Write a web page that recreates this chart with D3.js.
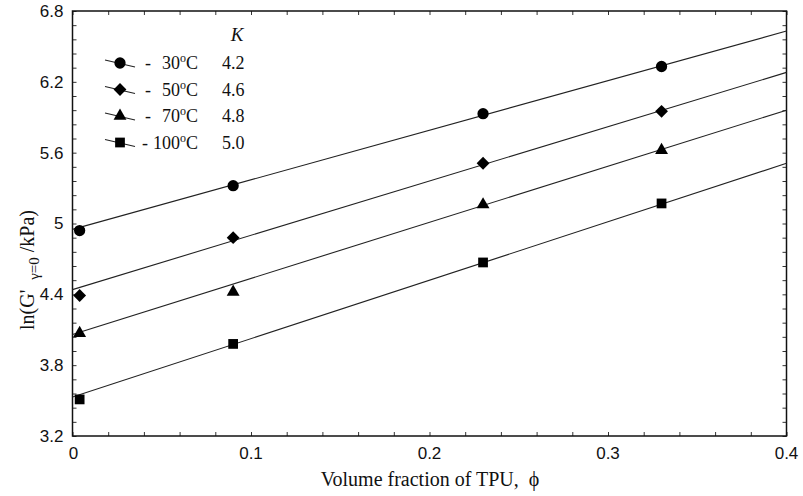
<!DOCTYPE html>
<html>
<head>
<meta charset="utf-8">
<script src="https://cdn.jsdelivr.net/npm/d3@7"></script>
<style>
  body { margin: 0; background: #fff; }
  .tick-label { font-family: "Liberation Sans", Arial, sans-serif; font-size: 17px; fill: #111; }
  .title { font-family: "Liberation Serif", "Times New Roman", serif; font-size: 20px; fill: #111; }
  .legend { font-family: "Liberation Serif", "Times New Roman", serif; font-size: 18px; fill: #111; }
</style>
</head>
<body>
<svg id="chart" width="803" height="496"></svg>
<script>
// volume fraction of TPU
var phi = [0.004, 0.09, 0.23, 0.33];

var temps = ["30", "50", "70", "100"];
var kValues = ["4.2", "4.6", "4.8", "5.0"];
var symbols = ["circle", "diamond", "triangle", "square"];

// ln(G')
var lnG30 = [4.94, 5.32, 5.93, 6.33];
var lnG50 = [4.39, 4.88, 5.51, 5.95];
var lnG70 = [4.07, 4.42, 5.16, 5.62];
var lnG100 = [3.51, 3.98, 4.67, 5.17];

// fitted lines, value at phi = 0 and phi = 0.4
var fitPhi = [0, 0.4];
var fit30 = [4.95, 6.63];
var fit50 = [4.44, 6.28];
var fit70 = [4.06, 5.96];
var fit100 = [3.53, 5.51];

var yTicks = [3.2, 3.8, 4.4, 5, 5.6, 6.2, 6.8];
var xTicks = [0, 0.1, 0.2, 0.3, 0.4];

var series = [
  { values: lnG30, fit: fit30 },
  { values: lnG50, fit: fit50 },
  { values: lnG70, fit: fit70 },
  { values: lnG100, fit: fit100 }
];

var margins = { top: 11, right: 16.5, bottom: 60, left: 72.5 };
var width = 803 - margins.left - margins.right;
var height = 496 - margins.top - margins.bottom;

var svg = d3.select("#chart");
var g = svg.append("g")
  .attr("transform", "translate(" + margins.left + "," + margins.top + ")");

var x = d3.scaleLinear().domain([0, 0.4]).range([0, width]);
var y = d3.scaleLinear().domain([3.2, 6.8]).range([height, 0]);

var shapeOf = function(name) {
  if (name == "circle") { return d3.symbol(d3.symbolCircle, 100); }
  else if (name == "diamond") { return d3.symbol(d3.symbolDiamond2, 105); }
  else if (name == "triangle") { return d3.symbol(d3.symbolTriangle, 72); }
  else { return d3.symbol(d3.symbolSquare, 95); }
}

// minor / major ticks, inward on all four sides
var yMinor = d3.range(3.2, 6.8 + 1e-6, 0.12);
var xMinor = d3.range(0, 0.4 + 1e-6, 0.02);

g.append("g").call(d3.axisRight(y).tickValues(yMinor).tickSize(4).tickFormat(""));
g.append("g").attr("transform", "translate(" + width + ",0)")
  .call(d3.axisLeft(y).tickValues(yMinor).tickSize(4).tickFormat(""));
g.append("g").attr("transform", "translate(0," + height + ")")
  .call(d3.axisTop(x).tickValues(xMinor).tickSize(4).tickFormat(""));
g.append("g")
  .call(d3.axisBottom(x).tickValues(xMinor).tickSize(4).tickFormat(""));

g.selectAll(".domain").remove();
g.selectAll(".tick line").attr("stroke", "#333").attr("stroke-width", 1);

g.append("rect")
  .attr("width", width)
  .attr("height", height)
  .attr("fill", "none")
  .attr("stroke", "#111")
  .attr("stroke-width", 1.5);

// tick labels
g.selectAll(".y-label")
  .data(yTicks).join("text")
  .attr("class", "tick-label")
  .attr("x", -9)
  .attr("y", d => y(d))
  .attr("dy", "0.35em")
  .attr("text-anchor", "end")
  .text(d => d);

g.selectAll(".x-label")
  .data(xTicks).join("text")
  .attr("class", "tick-label")
  .attr("x", d => x(d) + (d == 0 ? 1 : 0))
  .attr("y", height + 23)
  .attr("text-anchor", "middle")
  .text(d => d);

// fitted lines
var line = d3.line().x((d, i) => x(fitPhi[i])).y(d => y(d));
g.selectAll(".fit")
  .data(series).join("path")
  .attr("class", "fit")
  .attr("d", d => line(d.fit))
  .attr("fill", "none")
  .attr("stroke", "#222")
  .attr("stroke-width", 1.1);

// markers
series.forEach(function(s, i) {
  g.selectAll(".pt-" + i)
    .data(s.values).join("path")
    .attr("class", "pt-" + i)
    .attr("transform", (d, j) => "translate(" + x(phi[j]) + "," + y(d) + ")")
    .attr("d", shapeOf(symbols[i]))
    .attr("fill", "#000");
});

// axis titles
svg.append("text")
  .attr("class", "title")
  .attr("x", 430)
  .attr("y", 486)
  .attr("text-anchor", "middle")
  .attr("xml:space", "preserve")
  .text("Volume fraction of TPU,  \u03d5");

var yTitle = svg.append("text")
  .attr("class", "title")
  .attr("transform", "translate(34,270) rotate(-90)")
  .attr("text-anchor", "middle")
  .attr("xml:space", "preserve");
yTitle.append("tspan").text("ln(G'  ");
yTitle.append("tspan").attr("dy", 5).style("font-size", "15px").text("\u03b3=0");
yTitle.append("tspan").attr("dy", -5).text(" /kPa)");

// legend
var legend = svg.append("g").attr("class", "legend-wrap");
legend.append("text")
  .attr("class", "legend")
  .attr("x", 237)
  .attr("y", 41)
  .attr("text-anchor", "middle")
  .style("font-style", "italic")
  .style("font-size", "19px")
  .text("K");

var rows = legend.selectAll(".row")
  .data(temps).join("g")
  .attr("class", "row")
  .attr("transform", (d, i) => "translate(0," + (63 + i * 26.5) + ")");

rows.append("line")
  .attr("x1", 105).attr("y1", -3)
  .attr("x2", 135).attr("y2", 4)
  .attr("stroke", "#222")
  .attr("stroke-width", 1.1);

rows.append("path")
  .attr("transform", "translate(120,0)")
  .attr("d", (d, i) => shapeOf(symbols[i])())
  .attr("fill", "#000");

rows.append("text")
  .attr("class", "legend")
  .attr("x", (d, i) => i == 3 ? 142 : 145)
  .attr("y", 6)
  .text("-");

var tempText = rows.append("text")
  .attr("class", "legend")
  .attr("x", 198)
  .attr("y", 6)
  .attr("text-anchor", "end");
tempText.append("tspan").text(d => d);
tempText.append("tspan").attr("dy", -7).style("font-size", "12px").text("o");
tempText.append("tspan").attr("dy", 7).text("C");

rows.append("text")
  .attr("class", "legend")
  .attr("x", 222)
  .attr("y", 6)
  .text((d, i) => kValues[i]);
</script>
</body>
</html>
